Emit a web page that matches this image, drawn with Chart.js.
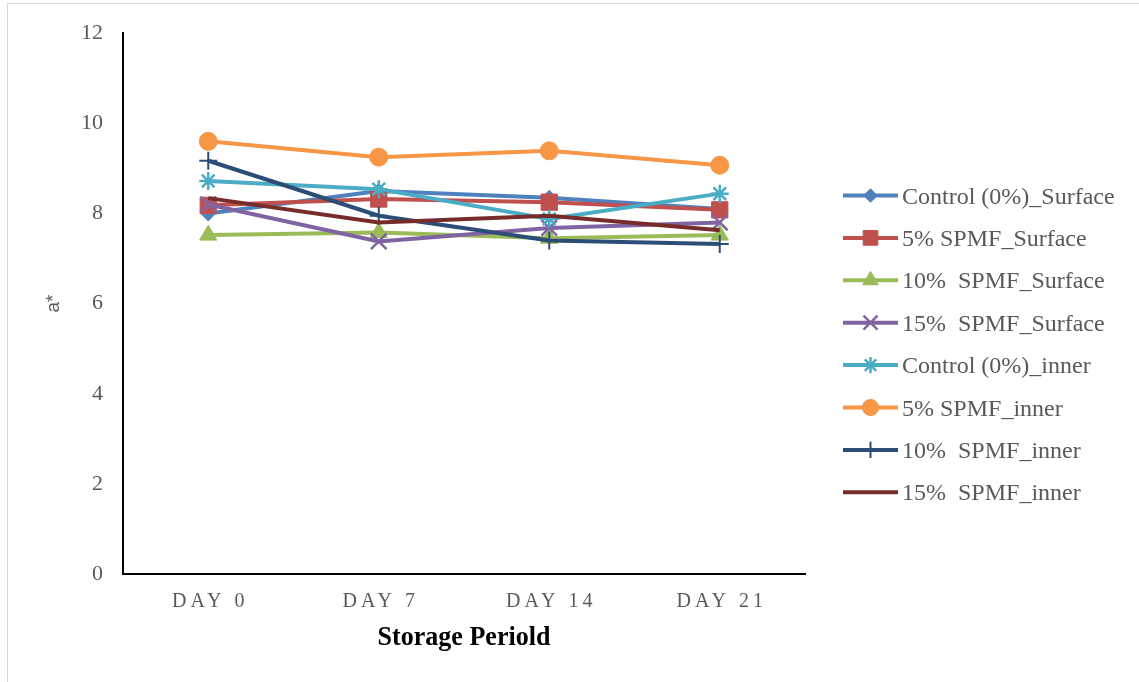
<!DOCTYPE html>
<html>
<head>
<meta charset="utf-8">
<script src="https://cdn.jsdelivr.net/npm/chart.js@4.4.1/dist/chart.umd.min.js"></script>
<style>
  html, body { margin: 0; padding: 0; background: #ffffff; overflow: hidden; }
  #frame { position: absolute; left: 7px; top: 3px; width: 1200px; height: 760px;
           border: 1px solid #d9d9d9; box-sizing: border-box; }
  #wrap { position: absolute; left: 0; top: 0; width: 1139px; height: 682px; }
</style>
</head>
<body>
<div id="frame"></div>
<div id="wrap"><canvas id="c" width="1139" height="682"></canvas></div>
<script>
// Storage days on the x axis
const categories = ['DAY 0', 'DAY 7', 'DAY 14', 'DAY 21'];

// a* readings per treatment
const controlSurface = [8.00, 8.50, 8.35, 8.10];
const spmf5Surface   = [8.18, 8.32, 8.25, 8.08];
const spmf10Surface  = [7.52, 7.58, 7.45, 7.52];
const spmf15Surface  = [8.20, 7.38, 7.68, 7.80];
const controlInner   = [8.72, 8.54, 7.88, 8.44];
const spmf5Inner     = [9.60, 9.25, 9.39, 9.07];
const spmf10Inner    = [9.17, 7.95, 7.40, 7.32];
const spmf15Inner    = [8.34, 7.80, 7.95, 7.63];

const seriesNames = [
  'Control (0%)_Surface',
  '5% SPMF_Surface',
  '10%  SPMF_Surface',
  '15%  SPMF_Surface',
  'Control (0%)_inner',
  '5% SPMF_inner',
  '10%  SPMF_inner',
  '15%  SPMF_inner'
];

const yMin = 0, yMax = 12, yStep = 2;

const seriesValues = [controlSurface, spmf5Surface, spmf10Surface, spmf15Surface,
                      controlInner, spmf5Inner, spmf10Inner, spmf15Inner];
const seriesColors = ['#4F81BD', '#C0504D', '#9BBB59', '#8064A2',
                      '#4BACC6', '#F79646', '#2C4D75', '#772C2A'];
const markerStyles = ['rectRot', 'rect', 'triangle', 'crossRot',
                      'star', 'circle', 'cross', false];
const markerRadius = [7.5, 11.5, 10, 11, 9, 9, 9, 0];
const markerStroke = [1, 1, 1, 2.5, 2.5, 1, 2, 0];

const datasets = seriesValues.map((vals, i) => ({
  label: seriesNames[i],
  data: vals,
  borderColor: seriesColors[i],
  backgroundColor: seriesColors[i],
  borderWidth: 4,
  pointStyle: markerStyles[i],
  pointRadius: markerRadius[i],
  pointHoverRadius: markerRadius[i],
  pointBorderWidth: markerStroke[i],
  pointBackgroundColor: seriesColors[i],
  pointBorderColor: seriesColors[i],
  tension: 0,
  fill: false,
  // later series sit on top of earlier ones
  order: seriesValues.length - i
}));

// Spaced-out lettering for the category labels (their tick layer is drawn after the lines)
const tickSpacing = {
  id: 'tickSpacing',
  afterDatasetsDraw(chart) { chart.ctx.letterSpacing = '4px'; },
  afterDraw(chart) { chart.ctx.letterSpacing = '0px'; }
};

// Axis title under the categories and the legend column on the right
const sideLegend = {
  id: 'sideLegend',
  afterDraw(chart) {
    const ctx = chart.ctx;
    const area = chart.chartArea;
    ctx.save();
    ctx.letterSpacing = '0px';

    // bold, slightly condensed axis title
    ctx.save();
    ctx.translate((area.left + area.right) / 2, area.bottom + 71);
    ctx.scale(0.93, 1);
    ctx.font = 'bold 28px "Liberation Serif", "Times New Roman", serif';
    ctx.fillStyle = '#000000';
    ctx.textAlign = 'center';
    ctx.textBaseline = 'alphabetic';
    ctx.fillText('Storage Periold', 0, 0);
    ctx.restore();

    const x0 = area.right + 38;
    const lineLen = 55;
    const top = 195.5, gap = 42.4;
    chart.data.datasets.forEach((ds, i) => {
      const y = top + i * gap;
      ctx.strokeStyle = ds.borderColor;
      ctx.lineWidth = ds.borderWidth;
      ctx.lineCap = 'butt';
      ctx.beginPath();
      ctx.moveTo(x0, y);
      ctx.lineTo(x0 + lineLen, y);
      ctx.stroke();
      if (ds.pointStyle) {
        ctx.fillStyle = ds.pointBackgroundColor;
        ctx.strokeStyle = ds.pointBorderColor;
        ctx.lineWidth = ds.pointBorderWidth;
        Chart.helpers.drawPoint(ctx, {
          pointStyle: ds.pointStyle,
          radius: ds.pointRadius * 0.9,
          borderWidth: ds.pointBorderWidth,
          rotation: 0
        }, x0 + lineLen / 2, y);
      }
      ctx.font = '24px "Liberation Serif", "Times New Roman", serif';
      ctx.fillStyle = '#595959';
      ctx.textAlign = 'left';
      ctx.textBaseline = 'alphabetic';
      ctx.fillText(ds.label, x0 + lineLen + 4, y + 8);
    });
    ctx.restore();
  }
};

new Chart(document.getElementById('c'), {
  type: 'line',
  data: { labels: categories, datasets: datasets },
  options: {
    responsive: false,
    animation: false,
    devicePixelRatio: 1,
    layout: { padding: { left: 7, top: 32, right: 334, bottom: 0 } },
    plugins: {
      legend: { display: false },
      tooltip: { enabled: false },
      title: { display: false }
    },
    scales: {
      x: {
        type: 'category',
        offset: true,
        grid: { display: false, drawTicks: false },
        border: { display: true, color: '#000000', width: 2 },
        ticks: {
          z: 1,
          color: '#595959',
          padding: 16,
          labelOffset: 2,
          maxRotation: 0,
          font: { family: '"Liberation Serif", "Times New Roman", serif', size: 20 }
        },
        afterFit(scale) { scale.height = 108; }
      },
      y: {
        min: yMin,
        max: yMax,
        grid: { display: false, drawTicks: false },
        border: { display: true, color: '#000000', width: 2 },
        ticks: {
          stepSize: yStep,
          color: '#595959',
          padding: 20,
          font: { family: '"Liberation Serif", "Times New Roman", serif', size: 22 }
        },
        title: {
          display: true,
          text: 'a*',
          color: '#595959',
          padding: { top: 35, bottom: 0 },
          font: { family: '"Liberation Sans", Arial, sans-serif', size: 19 }
        },
        afterFit(scale) { scale.width = 116; }
      }
    }
  },
  plugins: [tickSpacing, sideLegend]
});
</script>
</body>
</html>
